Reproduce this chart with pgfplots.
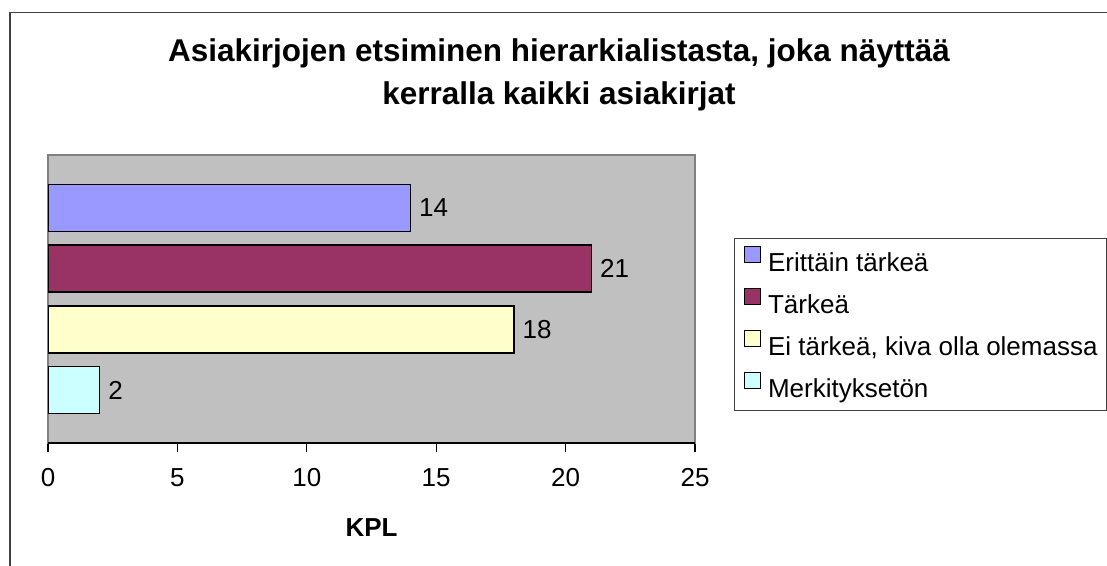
\documentclass[border=0pt]{standalone}
\usepackage{fontspec}
\setmainfont{Liberation Sans}
\usepackage{pgfplots}
\pgfplotsset{compat=1.18}
\definecolor{plotgray}{HTML}{C0C0C0}
\definecolor{framegray}{HTML}{808080}
\definecolor{barA}{HTML}{9999FF}
\definecolor{barB}{HTML}{993366}
\definecolor{barC}{HTML}{FFFFCC}
\definecolor{barD}{HTML}{CCFFFF}
\newcommand{\chartfont}{\fontsize{19.5pt}{23pt}\selectfont}
\newcommand{\titlefont}{\fontsize{23.6pt}{28pt}\selectfont\bfseries}

\begin{document}
\begin{tikzpicture}
\useasboundingbox (0,0) rectangle (830.25pt,-423.75pt);
% chart frame (cut at right and bottom)
\draw[line width=1.1pt, black!75] (7.5pt,-425pt) -- (7.5pt,-9.4pt) -- (832pt,-9.4pt);
\node[anchor=base, font=\titlefont] at (419.25pt,-45.75pt) {Asiakirjojen etsiminen hierarkialistasta, joka näyttää};
\node[anchor=base, font=\titlefont] at (419.25pt,-78pt) {kerralla kaikki asiakirjat};

\begin{axis}[
  at={(36pt,-332.25pt)}, anchor=south west,
  width=485.25pt, height=216pt, scale only axis,
  xbar, bar shift=0pt, bar width=0.775,
  xmin=0, xmax=25, ymin=-0.874, ymax=3.873,
  xtick={0,5,...,25}, ytick=\empty,
  xtick pos=bottom, tick align=outside, major tick length=6.75pt,
  tick style={black, line width=0.9pt},
  axis background/.style={fill=plotgray},
  axis line style={framegray, line width=1.1pt},
  ticklabel style={font=\chartfont},
  /pgf/number format/assume math mode=true,
  xticklabel style={inner sep=0pt, yshift=-12pt},
  xlabel={KPL},
  xlabel style={at={(axis description cs:0.5,-0.326)}, anchor=base, font=\chartfont\bfseries},
  nodes near coords,
  nodes near coords style={font=\chartfont, text=black, inner sep=0pt, xshift=6pt, anchor=west},
  every axis plot/.append style={draw=black, line width=1.1pt},
  legend style={at={(axis description cs:1.0603,0.7118)}, anchor=north west,
    draw=black!75, line width=0.9pt, inner xsep=6.75pt, inner ysep=5pt,
    row sep=7pt, column sep=5.25pt,
    nodes={inner sep=0pt, text height=20pt, text depth=4.5pt, font=\chartfont}},
  legend image code/.code={\draw[#1, line width=1.1pt] (0pt,-0.5pt) rectangle (12pt,11.5pt);},
  legend cell align=left,
]
\addplot[fill=barA] coordinates {(14,3)};
\addplot[fill=barB] coordinates {(21,2)};
\addplot[fill=barC] coordinates {(18,1)};
\addplot[fill=barD] coordinates {(2,0)};
\draw[black, line width=1.1pt] (rel axis cs:0,0) -- (rel axis cs:1,0);
\legend{Erittäin tärkeä, Tärkeä, {Ei tärkeä, kiva olla olemassa}, Merkityksetön}
\end{axis}
\end{tikzpicture}
\end{document}
